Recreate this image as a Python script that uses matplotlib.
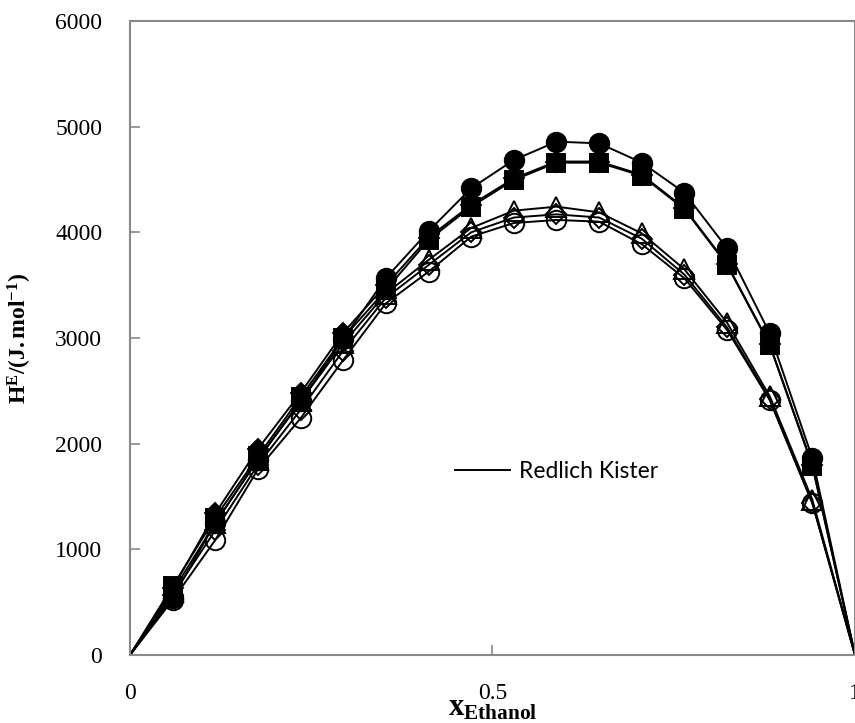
import numpy as np
import matplotlib
matplotlib.use("Agg")
import matplotlib.pyplot as plt

plt.rcParams["mathtext.fontset"] = "custom"
plt.rcParams["mathtext.rm"] = "Liberation Serif"
plt.rcParams["mathtext.it"] = "Liberation Serif:italic"
plt.rcParams["mathtext.bf"] = "Liberation Serif:bold"

# mole fraction of ethanol (17 equal steps)
x = [1/17, 2/17, 3/17, 4/17, 5/17, 6/17, 7/17, 8/17,
     9/17, 10/17, 11/17, 12/17, 13/17, 14/17, 15/17, 16/17]

# H^E values (J/mol)
he_circle_f = [540, 1250, 1850, 2400, 2990, 3567, 4010, 4417,
               4684, 4858, 4842, 4660, 4375, 3850, 3045, 1864]
he_square_f = [650, 1300, 1880, 2440, 3000, 3454, 3927, 4243,
               4495, 4659, 4659, 4535, 4220, 3691, 2934, 1790]
he_diamond_f = [630, 1340, 1950, 2480, 3050, 3500, 3950, 4260,
                4510, 4670, 4670, 4545, 4230, 3700, 2940, 1800]
he_triangle_o = [600, 1250, 1850, 2400, 2950, 3420, 3738, 4041,
                 4205, 4243, 4189, 3990, 3650, 3145, 2450, 1470]
he_diamond_o = [570, 1180, 1800, 2320, 2880, 3380, 3690, 4000,
                4140, 4170, 4140, 3940, 3600, 3100, 2420, 1440]
he_circle_o = [520, 1088, 1757, 2240, 2792, 3328, 3627, 3959,
               4088, 4117, 4101, 3888, 3565, 3076, 2413, 1436]

series = [
    (he_circle_f, "o", "black", 14),
    (he_square_f, "s", "black", 13),
    (he_diamond_f, "D", "black", 10),
    (he_triangle_o, "^", "none", 14),
    (he_diamond_o, "D", "none", 10),
    (he_circle_o, "o", "none", 14),
]

fig = plt.figure(figsize=(8.55, 7.23), dpi=100)
ax = fig.add_axes([0.152, 0.094, 0.848, 0.877])

# Redlich-Kister curves through the data, closed at x=0 and x=1
for i, (y, m, fc, ms) in enumerate(series):
    xl = [0] + x + [1]
    yl = [0] + y + [0]
    ax.plot(xl, yl, color="black", lw=1.4, zorder=2,
            label="Redlich Kister" if i == 0 else None)

for y, m, fc, ms in series:
    ax.plot(x, y, ls="none", marker=m, ms=ms, mfc=fc, mec="black",
            mew=1.4, zorder=3)

ax.set_xlim(0, 1)
ax.set_ylim(0, 6000)
ax.set_xticks([0, 0.5, 1])
ax.set_xticklabels(["0", "0.5", "1"])
ax.set_yticks([0, 1000, 2000, 3000, 4000, 5000, 6000])

for s in ax.spines.values():
    s.set_color("#898989")
    s.set_linewidth(1.5)
ax.tick_params(direction="in", length=7, width=1.2, color="#898989",
               labelsize=17, pad=20)
for lab in ax.get_xticklabels() + ax.get_yticklabels():
    lab.set_fontfamily("Liberation Serif")

ax.set_ylabel(r"$\mathbf{H^{E}/(J.mol^{-1})}$", fontsize=17, labelpad=15)
ax.set_xlabel(r"$\mathbf{x_{Ethanol}}$", fontsize=22, labelpad=-8)

leg = ax.legend(loc="upper left", bbox_to_anchor=(0.42, 0.338), frameon=False,
                prop={"family": "Lato", "size": 16.5}, handlelength=2.4,
                handletextpad=0.4)

fig.savefig("out.png", dpi=100)
